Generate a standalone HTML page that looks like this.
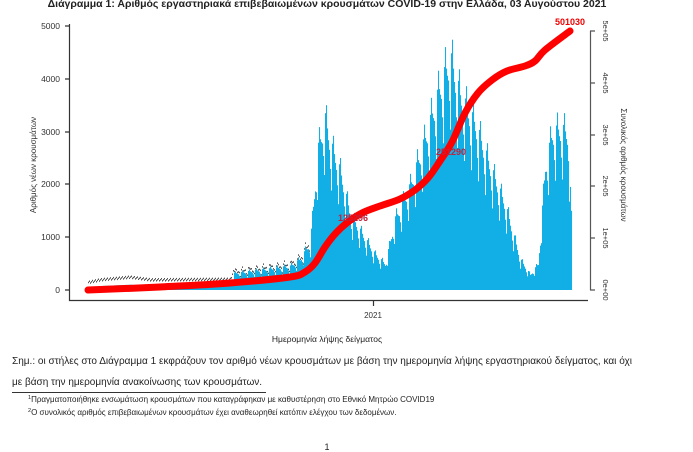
<!DOCTYPE html>
<html><head><meta charset="utf-8"><style>
body{margin:0;width:693px;height:452px;background:#fff;overflow:hidden;font-family:"Liberation Sans","DejaVu Sans",sans-serif;}
svg{position:absolute;left:0;top:0}
</style></head><body>
<svg id="s" width="693" height="452" xmlns="http://www.w3.org/2000/svg" font-family="Liberation Sans, DejaVu Sans, sans-serif">
<text x="327" y="7" text-anchor="middle" font-size="10.5" font-weight="bold" fill="#222">Διάγραμμα 1: Αριθμός εργαστηριακά επιβεβαιωμένων κρουσμάτων COVID-19 στην Ελλάδα, 03 Αυγούστου 2021</text>
<g id="bars" fill="#12aee6"></g>
<g id="dots" fill="#555"></g>
<g stroke="#333" stroke-width="1.2" fill="none">
<path d="M69.5 24V300.5H588"/>
<path d="M65 26H69M65 79H69M65 132H69M65 184H69M65 237H69M65 290H69"/>
<path d="M373.5 300V306"/>
<path d="M590.5 31V290M590 31H595M590 83H595M590 135H595M590 186H595M590 238H595M590 290H595" stroke="#555"/>
</g>
<g font-size="8.5" fill="#333" text-anchor="end">
<text x="60" y="29">5000</text><text x="60" y="82">4000</text><text x="60" y="135">3000</text>
<text x="60" y="187">2000</text><text x="60" y="240">1000</text><text x="60" y="293">0</text>
</g>
<g font-size="7.5" fill="#333">
<text transform="translate(603,31) rotate(90)" text-anchor="middle">5e+05</text>
<text transform="translate(603,83) rotate(90)" text-anchor="middle">4e+05</text>
<text transform="translate(603,135) rotate(90)" text-anchor="middle">3e+05</text>
<text transform="translate(603,186) rotate(90)" text-anchor="middle">2e+05</text>
<text transform="translate(603,238) rotate(90)" text-anchor="middle">1e+05</text>
<text transform="translate(603,290) rotate(90)" text-anchor="middle">0e+00</text>
</g>
<text x="373" y="318" font-size="8" text-anchor="middle" fill="#333">2021</text>
<text transform="translate(36,165) rotate(-90)" font-size="8" text-anchor="middle" fill="#333">Αριθμός νέων κρουσμάτων</text>
<text transform="translate(621,165) rotate(90)" font-size="8" text-anchor="middle" fill="#333">Συνολικός αριθμός κρουσμάτων</text>
<path id="cum" fill="none" stroke="#f00" stroke-width="7" stroke-linecap="round" stroke-linejoin="round"/>
<text x="570" y="25" font-size="9" font-weight="bold" fill="#e00" text-anchor="middle">501030</text>
<text x="436" y="155" font-size="9" font-weight="bold" fill="#c0203a">251290</text>
<text x="338" y="221" font-size="9" font-weight="bold" fill="#c0203a">125296</text>
<text x="327" y="342" font-size="8.5" text-anchor="middle" fill="#222">Ημερομηνία λήψης δείγματος</text>
<text x="12" y="364" font-size="10" fill="#222" textLength="620" lengthAdjust="spacingAndGlyphs">Σημ.: οι στήλες στο Διάγραμμα 1 εκφράζουν τον αριθμό νέων κρουσμάτων με βάση την ημερομηνία λήψης εργαστηριακού δείγματος, και όχι</text>
<text x="12" y="385" font-size="10" fill="#222">με βάση την ημερομηνία ανακοίνωσης των κρουσμάτων.</text>
<path d="M12 392.5H266" stroke="#333" stroke-width="1"/>
<text x="28" y="402" font-size="8" fill="#222"><tspan font-size="5.5" dy="-3">1</tspan><tspan dy="3">Πραγματοποιήθηκε ενσωμάτωση κρουσμάτων που καταγράφηκαν με καθυστέρηση στο Εθνικό Μητρώο COVID19</tspan></text>
<text x="28" y="415" font-size="8" fill="#222"><tspan font-size="5.5" dy="-3">2</tspan><tspan dy="3">Ο συνολικός αριθμός επιβεβαιωμένων κρουσμάτων έχει αναθεωρηθεί κατόπιν ελέγχου των δεδομένων.</tspan></text>
<text x="327" y="450" font-size="9" text-anchor="middle" fill="#222">1</text>
</svg>
<script>
var kp=[[88,100],[100,150],[130,200],[150,150],[230,160],[234,350],[260,420],[290,500],[300,650],[310,1000],[318,3000],[325,3600],[330,3100],[340,2500],[350,1600],[360,1250],[375,750],[385,550],[395,1500],[410,2200],[425,3200],[440,4300],[450,4900],[460,4100],[475,3500],[490,2600],[505,1800],[520,650],[530,320],[538,550],[545,2600],[552,3300],[560,3400],[568,3300],[571,1500]];
function interp(p,x){for(var i=0;i<p.length-1;i++){if(x>=p[i][0]&&x<=p[i+1][0]){var t=(x-p[i][0])/(p[i+1][0]-p[i][0]);return p[i][1]+t*(p[i+1][1]-p[i][1]);}}return 0;}
var pat=[1,0.9,0.86,0.83,0.74,0.62,0.93],b="",d="";
for(var x=88;x<=571;x++){var v=interp(kp,x);var m=x<234?1:pat[(x-88)%7];var h=v*m*0.0528;
if(x>=234)b+='<rect x="'+x+'" y="'+(290-h).toFixed(1)+'" width="1.05" height="'+h.toFixed(1)+'"/>';
else{b+='<rect x="'+x+'" y="'+(290-h*0.5).toFixed(1)+'" width="1" height="'+(h*0.5).toFixed(1)+'"/>';}
if(x<310)d+='<rect x="'+x+'" y="'+(288-h-((x*7)%3)).toFixed(1)+'" width="1" height="1.5"/>';}
document.getElementById('bars').innerHTML=b;document.getElementById('dots').innerHTML=d;
var c=[[88,290],[160,287],[230,283],[290,277],[305,272],[315,263],[325,247],[335,234],[348,222],[362,213],[380,206],[400,199],[415,190],[428,178],[440,161],[452,142],[465,113],[478,93],[492,80],[507,71],[525,66],[535,61],[545,50],[570,31]];
var s="M"+c[0][0]+" "+c[0][1];
for(var i=1;i<c.length;i++){var p0=c[i-2]||c[i-1],p1=c[i-1],p2=c[i],p3=c[i+1]||c[i];
s+=" C"+(p1[0]+(p2[0]-p0[0])/6).toFixed(1)+" "+(p1[1]+(p2[1]-p0[1])/6).toFixed(1)+" "+(p2[0]-(p3[0]-p1[0])/6).toFixed(1)+" "+(p2[1]-(p3[1]-p1[1])/6).toFixed(1)+" "+p2[0]+" "+p2[1];}
document.getElementById('cum').setAttribute('d',s);
</script>
</body></html>
